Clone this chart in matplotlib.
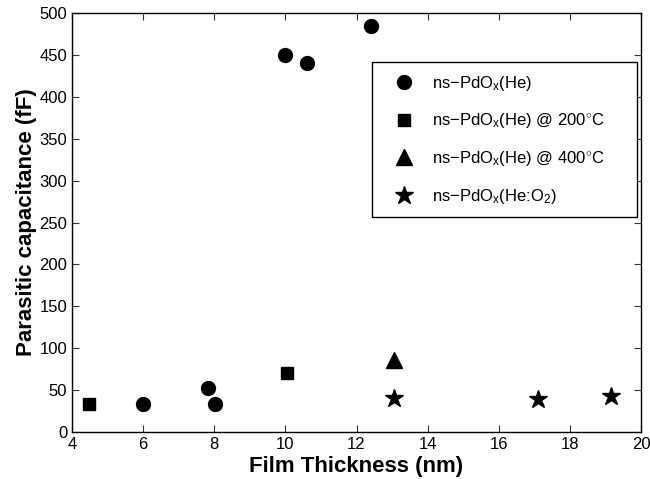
import matplotlib
matplotlib.use("Agg")
import matplotlib.pyplot as plt

plt.rcParams['font.family'] = ['Liberation Sans', 'DejaVu Sans']
plt.rcParams['mathtext.fontset'] = 'custom'
plt.rcParams['mathtext.rm'] = 'Liberation Sans'
plt.rcParams['mathtext.it'] = 'Liberation Sans'

# data
he_x = [6, 7.82, 8.02, 10, 10.6, 12.4]
he_y = [33, 53, 34, 450, 440, 484]
he200_x = [4.47, 10.05]
he200_y = [33, 71]
he400_x = [13.05]
he400_y = [86]
heo2_x = [13.05, 17.1, 19.15]
heo2_y = [41, 39, 43]

labels = ['ns\u2212PdO$_{x}$(He)',
          'ns\u2212PdO$_{x}$(He) @ 200$^{\\circ}$C',
          'ns\u2212PdO$_{x}$(He) @ 400$^{\\circ}$C',
          'ns\u2212PdO$_{x}$(He:O$_{2}$)']

fig = plt.figure(figsize=(6.5, 4.79), dpi=100)
ax = fig.add_axes([0.1108, 0.0981, 0.8754, 0.8747])

ax.plot(he_x, he_y, 'o', color='k', markersize=10, label=labels[0])
ax.plot(he200_x, he200_y, 's', color='k', markersize=8, label=labels[1])
ax.plot(he400_x, he400_y, '^', color='k', markersize=11, label=labels[2])
ax.plot(heo2_x, heo2_y, '*', color='k', markersize=13.5, label=labels[3])

ax.set_xlim(4, 20)
ax.set_ylim(0, 500)
ax.set_xticks(range(4, 21, 2))
ax.set_yticks(range(0, 501, 50))
ax.tick_params(direction='in', top=True, right=True, labelsize=12, length=5,
               color='#333333')
for s in ax.spines.values():
    s.set_linewidth(1.0)

ax.set_xlabel('Film Thickness (nm)', fontsize=16, fontweight='bold', labelpad=3)
ax.set_ylabel('Parasitic capacitance (fF)', fontsize=16, fontweight='bold', labelpad=2)

# legend box spans a fixed width, like the matlab one
leg = ax.legend(loc='upper left', bbox_to_anchor=(0.527, 0.0, 0.466, 0.883),
                mode='expand', fontsize=12,
                labelspacing=1.12, borderpad=0.7, handlelength=2.4,
                handletextpad=0.5, fancybox=False, framealpha=1,
                edgecolor='k', borderaxespad=0)
leg.get_frame().set_linewidth(1.0)

fig.savefig('out.png', dpi=100)
